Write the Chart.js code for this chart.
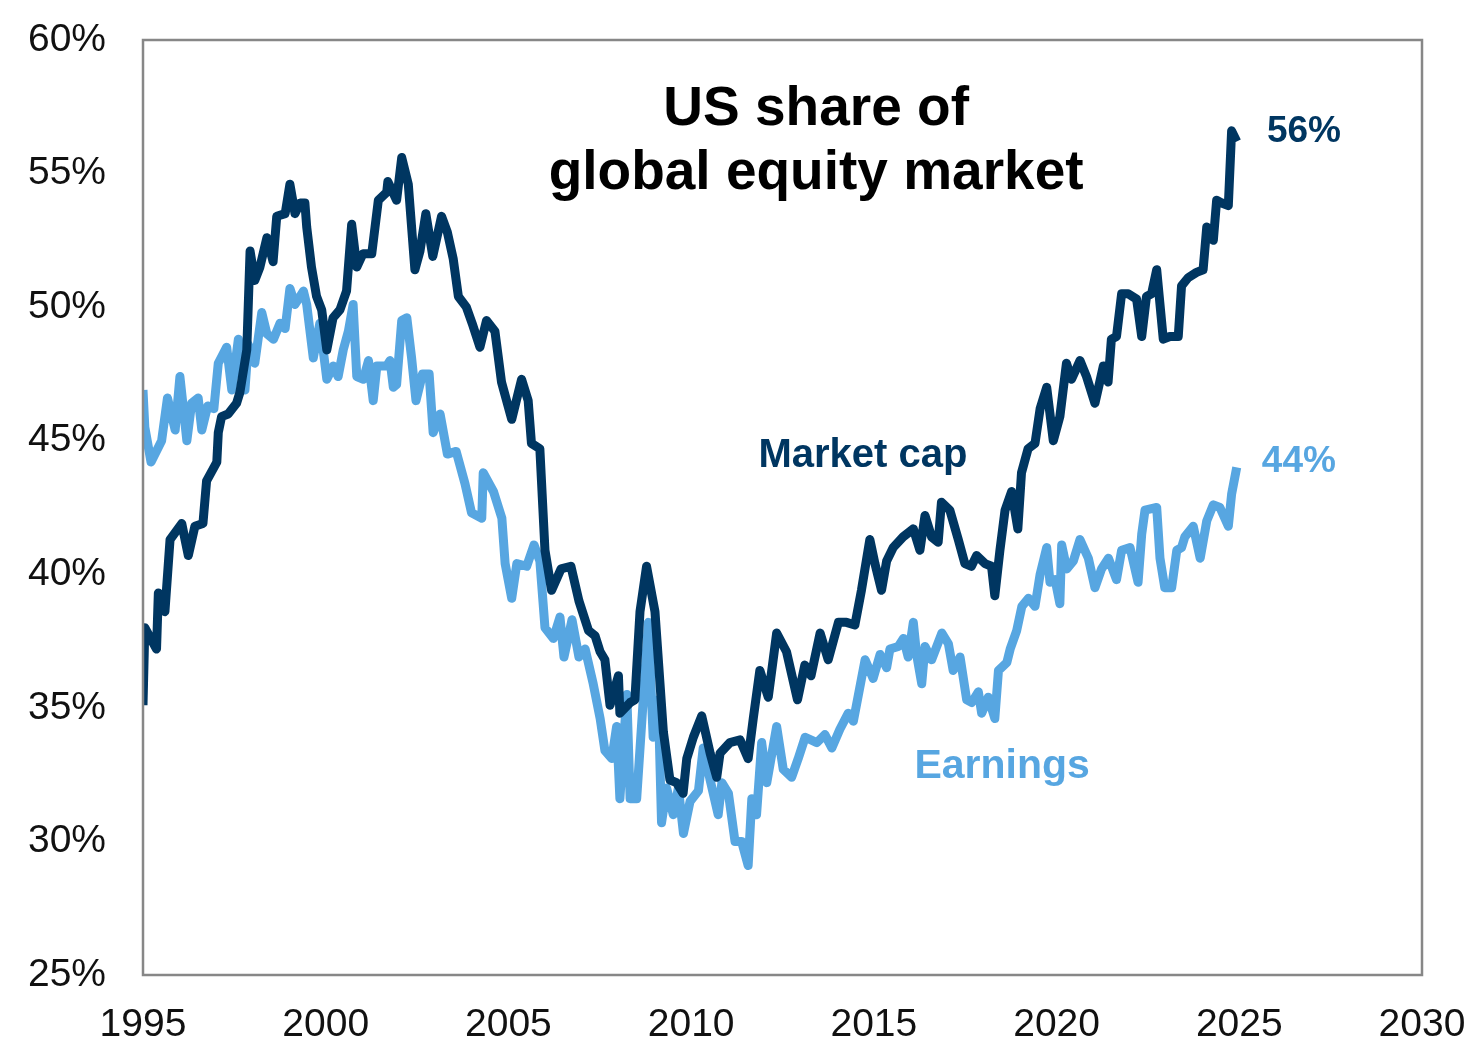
<!DOCTYPE html>
<html>
<head>
<meta charset="utf-8">
<title>US share of global equity market</title>
<script src="https://cdn.jsdelivr.net/npm/chart.js@4.4.1/dist/chart.umd.min.js"></script>
<style>
  html, body { margin: 0; padding: 0; background: #ffffff; }
  #wrap { width: 1465px; height: 1060px; }
</style>
</head>
<body>
<div id="wrap"><canvas id="chart" width="1465" height="1060"></canvas></div>
<script>
// Market cap share (navy)
const capYears = [
  1995.00, 1995.05, 1995.37, 1995.42, 1995.60, 1995.74, 1996.06, 1996.24, 1996.42, 1996.64,
  1996.74, 1997.02, 1997.06, 1997.15, 1997.33, 1997.56, 1997.65, 1997.84, 1997.93, 1998.06,
  1998.20, 1998.39, 1998.56, 1998.66, 1998.89, 1999.02, 1999.16, 1999.30, 1999.43, 1999.48,
  1999.61, 1999.75, 1999.89, 2000.03, 2000.20, 2000.39, 2000.57, 2000.71, 2000.85, 2001.02,
  2001.26, 2001.44, 2001.67, 2001.70, 2001.94, 2002.08, 2002.26, 2002.44, 2002.58, 2002.74,
  2002.93, 2003.17, 2003.33, 2003.49, 2003.63, 2003.85, 2004.03, 2004.22, 2004.40, 2004.63,
  2004.81, 2005.09, 2005.36, 2005.54, 2005.63, 2005.86, 2006.00, 2006.18, 2006.44, 2006.71,
  2006.93, 2007.19, 2007.37, 2007.51, 2007.64, 2007.78, 2008.01, 2008.05, 2008.33, 2008.46,
  2008.60, 2008.78, 2009.01, 2009.24, 2009.42, 2009.60, 2009.78, 2009.88, 2010.06, 2010.29,
  2010.52, 2010.70, 2010.79, 2011.06, 2011.34, 2011.56, 2011.70, 2011.88, 2012.11, 2012.34,
  2012.61, 2012.91, 2013.11, 2013.28, 2013.53, 2013.75, 2014.03, 2014.25, 2014.48, 2014.66,
  2014.89, 2015.03, 2015.21, 2015.35, 2015.53, 2015.80, 2016.08, 2016.26, 2016.40, 2016.58,
  2016.76, 2016.85, 2017.08, 2017.31, 2017.49, 2017.67, 2017.81, 2018.04, 2018.22, 2018.31,
  2018.45, 2018.59, 2018.77, 2018.94, 2019.04, 2019.22, 2019.41, 2019.55, 2019.73, 2019.91,
  2020.09, 2020.27, 2020.41, 2020.64, 2020.82, 2021.05, 2021.28, 2021.41, 2021.50, 2021.64,
  2021.78, 2021.96, 2022.19, 2022.33, 2022.46, 2022.60, 2022.74, 2022.92, 2023.10, 2023.33,
  2023.42, 2023.60, 2023.83, 2024.01, 2024.11, 2024.29, 2024.38, 2024.52, 2024.70, 2024.79,
  2024.93
]
const capValues = [
  35.1, 38.0, 37.2, 39.3, 38.6, 41.3, 41.9, 40.7, 41.8, 41.9,
  43.5, 44.2, 45.3, 45.9, 46.0, 46.4, 46.8, 48.4, 52.1, 51.0,
  51.5, 52.6, 51.7, 53.4, 53.5, 54.6, 53.5, 53.9, 53.9, 53.0,
  51.5, 50.4, 49.9, 48.4, 49.6, 49.9, 50.6, 53.1, 51.5, 52.0,
  52.0, 54.0, 54.3, 54.7, 54.0, 55.6, 54.6, 51.4, 52.1, 53.5,
  51.9, 53.4, 52.8, 51.8, 50.4, 50.0, 49.3, 48.5, 49.5, 49.1,
  47.2, 45.8, 47.3, 46.5, 44.9, 44.7, 40.9, 39.4, 40.2, 40.3,
  39.0, 37.9, 37.7, 37.1, 36.8, 35.1, 36.2, 34.8, 35.2, 35.3,
  38.6, 40.3, 38.6, 34.1, 32.3, 32.2, 31.8, 33.1, 33.9, 34.7,
  33.3, 32.4, 33.3, 33.7, 33.8, 33.1, 34.6, 36.4, 35.4, 37.8,
  37.1, 35.3, 36.6, 36.2, 37.8, 36.8, 38.2, 38.2, 38.1, 39.4,
  41.3, 40.4, 39.4, 40.5, 41.0, 41.4, 41.7, 40.9, 42.2, 41.4,
  41.2, 42.7, 42.4, 41.3, 40.4, 40.3, 40.7, 40.4, 40.3, 39.2,
  40.9, 42.4, 43.1, 41.7, 43.8, 44.7, 44.9, 46.2, 47.0, 45.0,
  45.9, 47.9, 47.3, 48.0, 47.4, 46.4, 47.8, 47.2, 48.8, 48.9,
  50.5, 50.5, 50.3, 48.9, 50.4, 50.5, 51.4, 48.8, 48.9, 48.9,
  50.8, 51.1, 51.3, 51.4, 53.0, 52.5, 54.0, 53.9, 53.8, 56.6,
  56.2
]

// Earnings share (light blue)
const earnYears = [
  1995.00, 1995.05, 1995.22, 1995.51, 1995.67, 1995.88, 1996.01, 1996.20, 1996.33, 1996.51,
  1996.61, 1996.77, 1996.94, 1997.06, 1997.29, 1997.43, 1997.61, 1997.79, 1997.88, 1998.06,
  1998.25, 1998.39, 1998.57, 1998.75, 1998.89, 1999.02, 1999.16, 1999.39, 1999.48, 1999.66,
  1999.84, 2000.03, 2000.21, 2000.34, 2000.48, 2000.62, 2000.75, 2000.85, 2001.03, 2001.17,
  2001.30, 2001.40, 2001.67, 2001.76, 2001.85, 2001.94, 2002.08, 2002.22, 2002.35, 2002.47,
  2002.65, 2002.83, 2002.94, 2003.13, 2003.33, 2003.57, 2003.81, 2003.99, 2004.27, 2004.31,
  2004.59, 2004.82, 2004.91, 2005.09, 2005.23, 2005.50, 2005.70, 2005.86, 2006.00, 2006.23,
  2006.41, 2006.52, 2006.74, 2006.93, 2007.10, 2007.32, 2007.51, 2007.64, 2007.83, 2007.96,
  2008.05, 2008.24, 2008.33, 2008.51, 2008.65, 2008.83, 2008.96, 2009.10, 2009.19, 2009.33,
  2009.51, 2009.65, 2009.79, 2009.97, 2010.20, 2010.33, 2010.52, 2010.74, 2010.84, 2011.02,
  2011.20, 2011.38, 2011.56, 2011.66, 2011.79, 2011.93, 2012.07, 2012.34, 2012.52, 2012.75,
  2012.93, 2013.12, 2013.44, 2013.66, 2013.85, 2014.07, 2014.30, 2014.44, 2014.76, 2014.98,
  2015.17, 2015.35, 2015.44, 2015.67, 2015.81, 2015.94, 2016.08, 2016.17, 2016.31, 2016.40,
  2016.58, 2016.86, 2017.04, 2017.17, 2017.36, 2017.54, 2017.68, 2017.86, 2017.95, 2018.13,
  2018.31, 2018.41, 2018.64, 2018.73, 2018.91, 2019.05, 2019.23, 2019.41, 2019.55, 2019.73,
  2019.82, 2019.96, 2020.09, 2020.14, 2020.28, 2020.46, 2020.64, 2020.87, 2021.05, 2021.23,
  2021.42, 2021.64, 2021.78, 2022.01, 2022.23, 2022.33, 2022.42, 2022.74, 2022.83, 2022.96,
  2023.15, 2023.29, 2023.42, 2023.51, 2023.74, 2023.93, 2024.11, 2024.29, 2024.47, 2024.70,
  2024.79, 2024.93
]
const earnValues = [
  46.9, 45.5, 44.2, 45.0, 46.6, 45.4, 47.4, 45.0, 46.4, 46.6,
  45.4, 46.3, 46.2, 47.9, 48.5, 46.9, 48.8, 46.9, 48.6, 47.9,
  49.8, 49.0, 48.8, 49.4, 49.2, 50.7, 50.1, 50.6, 50.1, 48.1,
  49.4, 47.3, 47.8, 47.4, 48.4, 49.1, 50.1, 47.4, 47.3, 48.0,
  46.5, 47.8, 47.8, 48.0, 47.0, 47.1, 49.5, 49.6, 48.1, 46.5,
  47.5, 47.5, 45.3, 46.0, 44.5, 44.6, 43.4, 42.3, 42.1, 43.8,
  43.1, 42.1, 40.4, 39.1, 40.4, 40.3, 41.1, 40.5, 38.0, 37.6,
  38.4, 36.9, 38.3, 36.9, 37.2, 35.9, 34.6, 33.4, 33.1, 34.3,
  31.6, 35.5, 31.6, 31.6, 34.5, 38.2, 33.9, 35.3, 30.7, 32.0,
  31.0, 32.0, 30.3, 31.5, 31.9, 33.5, 32.3, 31.0, 32.2, 31.8,
  30.0, 30.0, 29.1, 31.6, 31.0, 33.7, 32.2, 34.3, 32.7, 32.4,
  33.1, 33.9, 33.7, 34.0, 33.5, 34.2, 34.8, 34.5, 36.8, 36.1,
  37.0, 36.5, 37.2, 37.3, 37.6, 36.9, 38.2, 37.0, 35.9, 37.3,
  36.8, 37.8, 37.4, 36.4, 36.9, 35.3, 35.2, 35.6, 34.8, 35.4,
  34.6, 36.4, 36.7, 37.2, 37.9, 38.8, 39.1, 38.8, 40.0, 41.0,
  39.7, 39.8, 38.9, 41.1, 40.2, 40.5, 41.3, 40.6, 39.5, 40.2,
  40.6, 39.8, 40.9, 41.0, 39.7, 41.5, 42.4, 42.5, 40.6, 39.5,
  39.5, 40.9, 41.0, 41.4, 41.8, 40.6, 42.0, 42.6, 42.5, 41.8,
  43.0, 44.0
]

const navy = '#003661'
const lightBlue = '#57a6e1'

// text placed in value space: [text, year, percent, font, colour]
const notes = [
  ['US share of', 2013.42, 57.38, 'bold 55px "Liberation Sans", Arial, sans-serif', '#000000'],
  ['global equity market', 2013.42, 54.98, 'bold 55px "Liberation Sans", Arial, sans-serif', '#000000'],
  ['Market cap', 2014.70, 44.42, 'bold 40px "Liberation Sans", Arial, sans-serif', navy],
  ['Earnings', 2018.51, 32.8, 'bold 41px "Liberation Sans", Arial, sans-serif', lightBlue],
  ['56%', 2026.77, 56.55, 'bold 37px "Liberation Sans", Arial, sans-serif', navy],
  ['44%', 2026.63, 44.2, 'bold 37px "Liberation Sans", Arial, sans-serif', lightBlue]
]

function toPoints(xs, ys) {
  return xs.map((x, i) => ({ x: x, y: ys[i] }))
}

// the tick labels may hang outside the plot frame, like in the original
function noLabelPadding(scale) {
  scale.paddingTop = 0
  scale.paddingBottom = 0
  scale.paddingLeft = 0
  scale.paddingRight = 0
}

const frameAndNotes = {
  id: 'frameAndNotes',
  afterDraw(chart) {
    const ctx = chart.ctx
    const area = chart.chartArea
    const xs = chart.scales.x
    const ys = chart.scales.y
    ctx.save()
    ctx.strokeStyle = '#878787'
    ctx.lineWidth = 2.5
    ctx.strokeRect(area.left, area.top, area.right - area.left, area.bottom - area.top)
    ctx.textAlign = 'center'
    ctx.textBaseline = 'middle'
    notes.forEach(n => {
      ctx.font = n[3]
      ctx.fillStyle = n[4]
      ctx.fillText(n[0], xs.getPixelForValue(n[1]), ys.getPixelForValue(n[2]))
    })
    ctx.restore()
  }
}

const tickFont = { family: '"Liberation Sans", Arial, sans-serif', size: 39 }

new Chart(document.getElementById('chart'), {
  type: 'line',
  data: {
    datasets: [
      {
        label: 'Market cap',
        data: toPoints(capYears, capValues),
        borderColor: navy,
        borderWidth: 9,
        pointRadius: 0,
        tension: 0,
        borderJoinStyle: 'round',
        borderCapStyle: 'butt',
        order: 0
      },
      {
        label: 'Earnings',
        data: toPoints(earnYears, earnValues),
        borderColor: lightBlue,
        borderWidth: 9,
        pointRadius: 0,
        tension: 0,
        borderJoinStyle: 'round',
        borderCapStyle: 'butt',
        order: 1
      }
    ]
  },
  options: {
    responsive: false,
    animation: false,
    layout: { padding: { top: 40, right: 43, bottom: 0, left: 0 } },
    plugins: {
      legend: { display: false },
      tooltip: { enabled: false }
    },
    scales: {
      x: {
        type: 'linear',
        min: 1995,
        max: 2030,
        grid: { display: false, drawTicks: false },
        border: { display: false },
        ticks: {
          stepSize: 5,
          padding: 27,
          color: '#111111',
          font: tickFont,
          maxRotation: 0,
          callback: v => String(v)
        },
        afterFit(scale) {
          scale.height = 85
          noLabelPadding(scale)
        }
      },
      y: {
        min: 25,
        max: 60,
        grid: { display: false, drawTicks: false },
        border: { display: false },
        ticks: {
          stepSize: 5,
          padding: 37,
          color: '#111111',
          font: tickFont,
          callback: v => v + '%'
        },
        afterFit(scale) {
          scale.width = 143
          noLabelPadding(scale)
        }
      }
    }
  },
  plugins: [frameAndNotes]
})
</script>
</body>
</html>
